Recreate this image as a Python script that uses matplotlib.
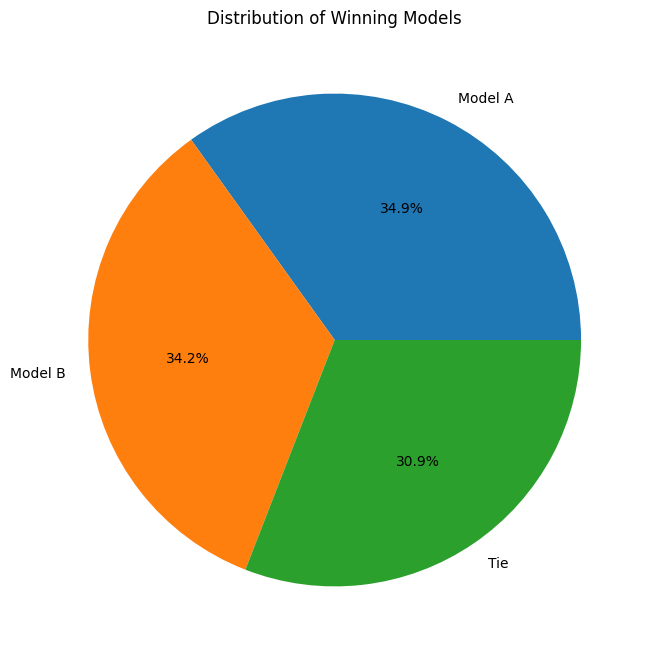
import matplotlib
matplotlib.use("Agg")
import matplotlib.pyplot as plt

labels = ["Model A", "Model B", "Tie"]
shares = [34.9, 34.2, 30.9]

fig, ax = plt.subplots(figsize=(8, 8), dpi=100)
ax.pie(shares, labels=labels, autopct="%1.1f%%")
ax.set_title("Distribution of Winning Models")
fig.savefig("out.png", bbox_inches="tight")
